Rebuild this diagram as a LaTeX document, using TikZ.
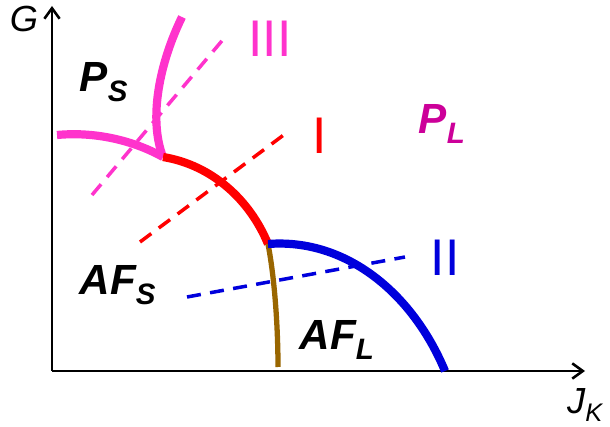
\documentclass[tikz,border=0pt]{standalone}
\usepackage{fontspec}
\setmainfont{Liberation Sans}
\usetikzlibrary{arrows.meta}
\definecolor{lineI}{RGB}{255,0,0}
\definecolor{lineII}{RGB}{0,0,220}
\definecolor{lineIII}{RGB}{255,51,204}
\definecolor{plcolor}{RGB}{204,0,153}
\definecolor{afbrown}{RGB}{153,102,0}

\begin{document}
\begin{tikzpicture}[x=0.03cm, y=-0.03cm,
  axisline/.style={line width=2.5pt,-{Straight Barb[length=9pt,width=13pt,line width=2.2pt]}},
  axislabel/.style={font=\fontsize{31}{31}\selectfont\itshape},
  border/.style={line width=7pt},
  cut/.style={line width=3pt,dash pattern=on 12pt off 8pt},
  phase/.style={font=\fontsize{36}{36}\selectfont\bfseries\itshape},
  roman/.style={font=\fontsize{44}{44}\selectfont}]
\useasboundingbox (0,0) rectangle (610,427);
% axes
\coordinate (origin) at (52,371);
\coordinate (gtop) at (52,6);
\coordinate (jend) at (585,371);
\draw[axisline] (origin) -- (gtop);
\draw[axisline] (origin) -- (jend);
\node[axislabel] (glabel) at (24,19) {G};
\node[axislabel] (jlabel) at (585,405) {J\textsubscript{K}};
% phase boundaries
\coordinate (left) at (57,135);
\coordinate (tri) at (163,157);
\coordinate (top) at (182,17);
\coordinate (mid) at (268,244);
\coordinate (afend) at (278,367);
\coordinate (blend) at (445,371);
\draw[border,lineIII] (left) .. controls (100,131) and (138,143) .. (tri);
\draw[border,lineIII] (top) .. controls (160,62) and (148,118) .. (tri);
\draw[border,lineI] (tri) .. controls (212,165) and (250,200) .. (mid);
\draw[line width=4.5pt,afbrown] (mid) .. controls (275,280) and (278,330) .. (afend);
\draw[border,lineII] (mid) .. controls (345,238) and (412,292) .. (blend);
% cuts
\coordinate (c3a) at (92,195);
\coordinate (c3b) at (226,36);
\coordinate (c1a) at (140,242);
\coordinate (c1b) at (285,134);
\coordinate (c2a) at (187,297);
\coordinate (c2b) at (405,257);
\draw[cut,lineIII] (c3a) -- (c3b);
\draw[cut,lineI] (c1a) -- (c1b);
\draw[cut,lineII] (c2a) -- (c2b);
\node[roman,lineIII] (cutIII) at (270,39) {III};
\node[roman,lineI] (cutI) at (320,136) {I};
\node[roman,lineII] (cutII) at (445,258) {II};
% phases
\node[phase] (ps) at (104,82) {P\textsubscript{S}};
\node[phase,plcolor] (pl) at (442,124) {P\textsubscript{L}};
\node[phase] (afs) at (118,285) {AF\textsubscript{S}};
\node[phase] (afl) at (337,340) {AF\textsubscript{L}};
\end{tikzpicture}
\end{document}
